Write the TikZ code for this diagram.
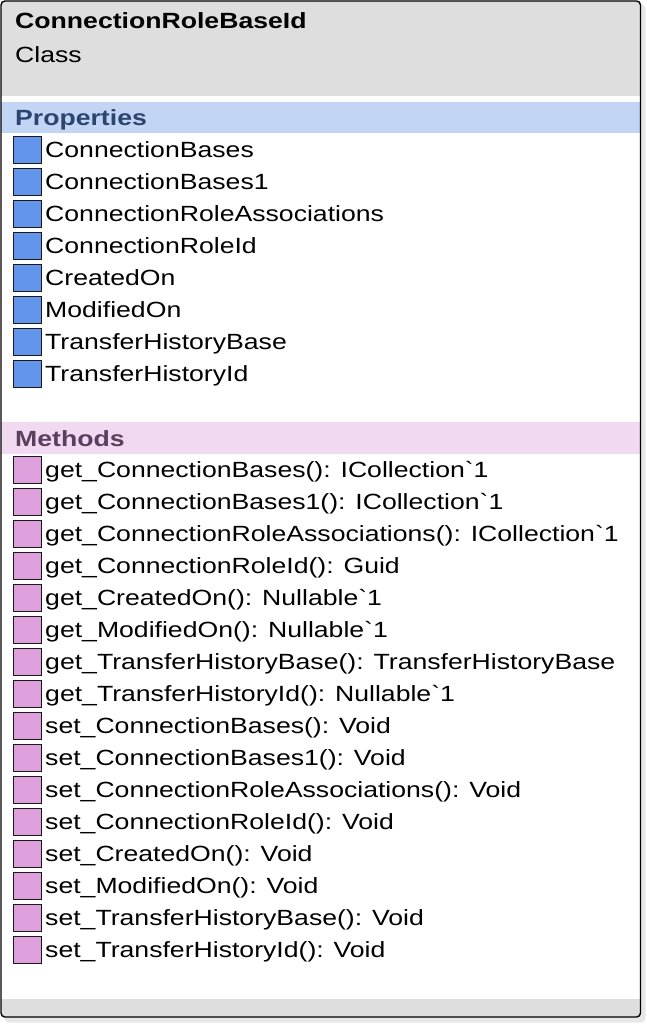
\documentclass[tikz,border=0pt]{standalone}
\usepackage{fontspec}
\setmainfont{Liberation Sans}[Ligatures=TeXOff]
\usepackage{graphicx}
\definecolor{hdrgray}{HTML}{DEDEDE}
\definecolor{botgray}{HTML}{DEDEDE}
\definecolor{propband}{HTML}{C2D5F5}
\definecolor{methband}{HTML}{F1D9F1}
\definecolor{proptext}{HTML}{2E4470}
\definecolor{methtext}{HTML}{5B3F5E}
\definecolor{propicon}{HTML}{6495ED}
\definecolor{methicon}{HTML}{DDA0DD}
\definecolor{shadowgray}{HTML}{BBBBBB}
\newcommand{\sx}[1]{\scalebox{1.21}[1]{#1}}
\newcommand{\bq}{\symbol{96}}
\tikzset{
  txt/.style={anchor=base west, inner sep=0pt, font=\fontsize{22}{26}\selectfont},
  ttl/.style={txt, font=\fontsize{22}{26}\selectfont\bfseries},
  pico/.style={draw=black!90, line width=1pt, fill=propicon},
  mico/.style={draw=black!90, line width=1pt, fill=methicon},
}
\begin{document}
\begin{tikzpicture}[x=1pt,y=-1pt]
\useasboundingbox (0,0) rectangle (647,1024);
% shadow
\fill[shadowgray!60, rounded corners=4pt] (4,4) rectangle (644,1021);
\fill[shadowgray!35, rounded corners=4pt] (5,5) rectangle (645.5,1022.5);
% frame content
\begin{scope}
\clip[rounded corners=4pt] (1,1) rectangle (640.5,1017);
\fill[white] (0,0) rectangle (647,1024);
\fill[hdrgray] (0,0) rectangle (647,96);
\fill[propband] (0,102) rectangle (647,133);
\fill[methband] (0,422) rectangle (647,454);
\fill[botgray] (0,999) rectangle (647,1024);
\end{scope}
\draw[line width=1.4pt, black, rounded corners=4pt] (1,1) rectangle (640.5,1017);
% title
\node[ttl] (title) at (15,29) {\sx{ConnectionRoleBaseId}};
\node[txt] (kind) at (15,62.5) {\sx{Class}};
\node[ttl, text=proptext] (props) at (15,126) {\sx{Properties}};
\node[ttl, text=methtext] (meths) at (15,446) {\sx{Methods}};
% properties
\foreach \t [count=\i from 0] in {ConnectionBases,ConnectionBases1,ConnectionRoleAssociations,ConnectionRoleId,CreatedOn,ModifiedOn,TransferHistoryBase,TransferHistoryId}{
  \draw[pico] (13,150+32*\i-13.5) rectangle (41,150+32*\i+13.5);
  \node[txt] (p\i) at (45,157.5+32*\i) {\sx{\t}};
}
% methods
\foreach \t [count=\i from 0] in {get\_ConnectionBases(): ICollection\bq1,get\_ConnectionBases1(): ICollection\bq1,get\_ConnectionRoleAssociations(): ICollection\bq1,get\_ConnectionRoleId(): Guid,get\_CreatedOn(): Nullable\bq1,get\_ModifiedOn(): Nullable\bq1,get\_TransferHistoryBase(): TransferHistoryBase,get\_TransferHistoryId(): Nullable\bq1,set\_ConnectionBases(): Void,set\_ConnectionBases1(): Void,set\_ConnectionRoleAssociations(): Void,set\_ConnectionRoleId(): Void,set\_CreatedOn(): Void,set\_ModifiedOn(): Void,set\_TransferHistoryBase(): Void,set\_TransferHistoryId(): Void}{
  \draw[mico] (13,470+32*\i-13.5) rectangle (41,470+32*\i+13.5);
  \node[txt] (m\i) at (45,477.5+32*\i) {\sx{\t}};
}
\end{tikzpicture}
\end{document}
